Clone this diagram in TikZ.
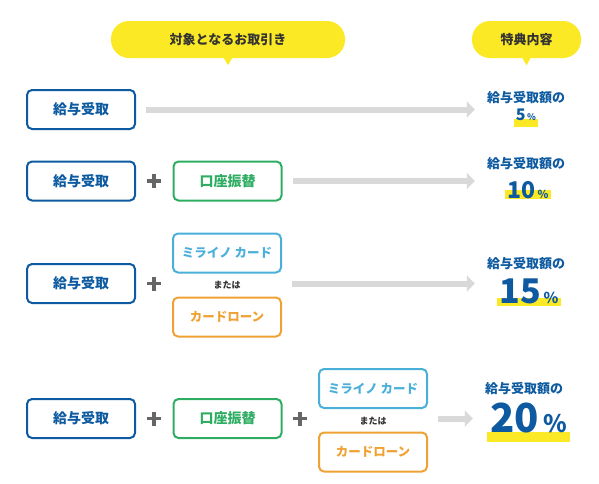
\documentclass[tikz,border=0pt]{standalone}
\usepackage{fontspec}
\setmainfont{Noto Sans CJK JP}
\usepackage{tikz}
\usetikzlibrary{arrows.meta,backgrounds}
\definecolor{kyublue}{HTML}{0D5AA0}
\definecolor{furigreen}{HTML}{2EAD62}
\definecolor{miraiblue}{HTML}{4AAFD9}
\definecolor{loanorange}{HTML}{F0A133}
\definecolor{bubyellow}{HTML}{FCE925}
\definecolor{arrowgray}{HTML}{D9D9D9}
\definecolor{plusgray}{HTML}{666666}
\definecolor{inkgray}{HTML}{333333}
\tikzset{
  kbox/.style={draw,line width=2pt,rounded corners=5pt,minimum width=108pt,
    minimum height=39pt,inner sep=0pt,font=\fontsize{14}{14}\selectfont\bfseries},
  kyuyo/.style={kbox,draw=kyublue,text=kyublue},
  furi/.style={kbox,draw=furigreen,text=furigreen},
  mirai/.style={kbox,draw=miraiblue,text=miraiblue,
    font=\fontsize{12.5}{12.5}\selectfont\bfseries},
  loan/.style={kbox,draw=loanorange,text=loanorange,
    font=\fontsize{12.5}{12.5}\selectfont\bfseries},
  matawa/.style={inner sep=0pt,text=inkgray,font=\fontsize{9}{9}\selectfont\bfseries},
  bub/.style={fill=bubyellow,rounded corners=18pt,minimum height=37pt,inner sep=0pt,
    text=inkgray,font=\fontsize{13}{13}\selectfont\bfseries},
  plusmark/.style={minimum size=14pt,inner sep=0pt,path picture={
    \draw[line width=3.6pt,plusgray]
      (path picture bounding box.north) -- (path picture bounding box.south)
      (path picture bounding box.west) -- (path picture bounding box.east);}},
  garrow/.style={draw=arrowgray,line width=6pt,-{Triangle[length=8pt,width=16pt]},
    shorten <=10pt,shorten >=12pt},
  tokuten/.style={inner sep=0pt,text=kyublue,font=\fontsize{13}{13}\selectfont\bfseries},
  hl/.style={fill=bubyellow},
}
\begin{document}
\begin{tikzpicture}[x=1pt,y=-1pt]
  \useasboundingbox (0,0) rectangle (599,483);
  % headers
  \node[bub,minimum width=234pt] (taisho) at (228,39.5) {対象となるお取引き};
  \node[bub,minimum width=109pt] (toku) at (526.5,39.5) {特典内容};
  \fill[bubyellow] ([xshift=-4pt]taisho.south) -- ([yshift=-7pt]taisho.south)
    -- ([xshift=4pt]taisho.south) -- cycle;
  \fill[bubyellow] ([xshift=-4pt]toku.south) -- ([yshift=-7pt]toku.south)
    -- ([xshift=4pt]toku.south) -- cycle;

  % row 1
  \node[kyuyo] (k1) at (81,109.5) {給与受取};
  \node[tokuten] (r1) at (526,97.5) {給与受取額の};
  \node[tokuten,anchor=base] (n1) at (526,120)
    {\fontsize{16}{16}\selectfont 5\fontsize{9}{9}\selectfont\,\%};
  \draw[garrow] (k1.east) -- (k1.east -| r1.west);

  % row 2
  \node[kyuyo] (k2) at (81,181) {給与受取};
  \node[plusmark] (p2) at (154,181) {};
  \node[furi] (f2) at (227.5,181) {口座振替};
  \node[tokuten] (r2) at (526,164) {給与受取額の};
  \node[tokuten,anchor=base] (n2) at (528,198)
    {\fontsize{23}{23}\selectfont 10\fontsize{11}{11}\selectfont\,\%};
  \draw[garrow] (f2.east) -- (f2.east -| r2.west);

  % row 3
  \node[kyuyo] (k3) at (81,283.5) {給与受取};
  \node[plusmark] (p3) at (154,283.5) {};
  \node[mirai] (m3) at (227,253) {ミライノ カード};
  \node[matawa] (o3) at (227,285) {または};
  \node[loan] (l3) at (227,317) {カードローン};
  \node[tokuten] (r3) at (526,264) {給与受取額の};
  \node[tokuten,anchor=base] (n3) at (529,303)
    {\fontsize{34}{34}\selectfont 15\fontsize{15}{15}\selectfont\,\%};
  \draw[garrow] (m3.east |- k3) -- (r3.west |- k3);

  % row 4
  \node[kyuyo] (k4) at (81,418.5) {給与受取};
  \node[plusmark] (p4a) at (154,418.5) {};
  \node[furi] (f4) at (227.5,418.5) {口座振替};
  \node[plusmark] (p4b) at (300,418.5) {};
  \node[mirai] (m4) at (373,388.5) {ミライノ カード};
  \node[matawa] (o4) at (373,421) {または};
  \node[loan] (l4) at (373,452) {カードローン};
  \node[tokuten] (r4) at (524,389) {給与受取額の};
  \node[tokuten,anchor=base] (n4) at (528.5,432)
    {\fontsize{40}{40}\selectfont 20\fontsize{24}{24}\selectfont\,\%};
  \draw[garrow] (m4.east |- k4) -- (r4.west |- k4);

  % highlights
  \begin{scope}[on background layer]
    \fill[hl] ([xshift=-2pt,yshift=1pt]n1.base west) rectangle ([xshift=2pt,yshift=-7pt]n1.base east);
    \fill[hl] ([xshift=-2pt,yshift=8pt]n2.base west) rectangle ([xshift=2pt,yshift=-1pt]n2.base east);
    \fill[hl] ([xshift=-2pt,yshift=5pt]n3.base west) rectangle ([xshift=2pt,yshift=-3pt]n3.base east);
    \fill[hl] ([xshift=-3pt,yshift=0pt]n4.base west) rectangle ([xshift=3pt,yshift=-10pt]n4.base east);
  \end{scope}
\end{tikzpicture}
\end{document}
